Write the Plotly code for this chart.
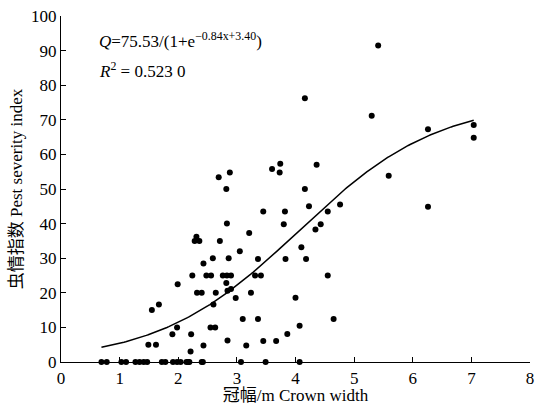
import numpy as np
import plotly.graph_objects as go

# Crown width (m) and pest severity index of the sampled trees
crown_width = [
    0.69, 0.78, 1.03, 1.11, 1.27, 1.34, 1.41, 1.47, 1.72, 1.78,
    1.91, 1.98, 2.04, 2.14, 2.17, 2.19, 2.40, 2.42, 3.07, 3.49, 4.07,
    1.49, 1.62, 1.55, 1.67, 1.90, 1.98, 2.22, 2.21, 1.99, 2.24, 2.32,
    2.69, 2.88, 2.82, 2.83, 2.71, 2.31, 2.28, 2.36, 3.05, 2.86, 2.59, 2.43,
    2.48, 2.56, 2.76, 2.83, 2.90, 2.82, 2.84, 2.90, 2.40, 2.64, 2.60, 2.98,
    2.55, 2.63, 2.84, 2.43,
    4.16, 5.30, 5.59, 3.60, 3.74, 3.73, 4.36, 4.16, 4.23, 3.45, 3.82, 3.80,
    4.55, 4.76, 4.34, 4.43, 3.21, 4.10, 4.18, 3.83, 3.36, 3.31, 3.41, 4.55,
    3.24, 4.00, 3.10, 3.36, 4.65, 4.07, 3.86, 3.16, 3.45, 3.67,
    5.41, 6.26, 7.04, 7.04, 6.26,
]
pest_index = [
    0, 0, 0, 0, 0, 0, 0, 0, 0, 0,
    0, 0, 0, 0, 0, 0, 0, 0, 0, 0, 0,
    5.0, 5.0, 15.0, 16.6, 8.0, 10.0, 8.0, 3.0, 22.5, 25.0, 20.0,
    53.4, 54.8, 50.0, 40.0, 35.0, 36.2, 35.0, 35.0, 32.0, 30.0, 30.0, 28.5,
    25.0, 25.0, 25.0, 25.0, 25.0, 22.8, 20.6, 21.1, 20.0, 20.0, 16.6, 18.5,
    10.0, 10.0, 6.2, 4.8,
    76.2, 71.2, 53.8, 55.8, 57.3, 54.8, 57.0, 50.0, 45.0, 43.5, 43.5, 39.8,
    43.5, 45.5, 38.3, 39.8, 37.3, 33.2, 29.8, 29.8, 29.8, 25.0, 25.0, 25.0,
    20.0, 18.6, 12.4, 12.4, 12.4, 10.5, 8.1, 4.8, 6.1, 6.1,
    91.5, 67.3, 68.5, 64.8, 44.9,
]

# Logistic fit Q = K / (1 + exp(a*x + b))
K, a, b = 75.53, -0.84, 3.40
x_fit = np.linspace(0.69, 7.04, 200)
y_fit = K / (1 + np.exp(a * x_fit + b))

x_ticks = list(range(0, 9))
y_ticks = list(range(0, 101, 10))

serif = "'Liberation Serif', 'Noto Sans CJK SC', serif"

fig = go.Figure()
fig.add_trace(go.Scatter(
    x=x_fit, y=y_fit, mode="lines",
    line=dict(color="black", width=1.5),
    hoverinfo="skip", cliponaxis=False,
))
fig.add_trace(go.Scatter(
    x=crown_width, y=pest_index, mode="markers",
    marker=dict(color="black", size=6),
    cliponaxis=False,
))

fig.add_annotation(
    x=0, y=1, xref="paper", yref="paper",
    xshift=36, yshift=-24, xanchor="left", yanchor="middle",
    text="<i>Q</i>=75.53/(1+e<sup>−0.84x+3.40</sup>)",
    showarrow=False, font=dict(family=serif, size=17, color="black"),
)
fig.add_annotation(
    x=0, y=1, xref="paper", yref="paper",
    xshift=36, yshift=-54, xanchor="left", yanchor="middle",
    text="<i>R</i><sup>2</sup> = 0.523 0",
    showarrow=False, font=dict(family=serif, size=17, color="black"),
)

axis_common = dict(
    showgrid=False, zeroline=False, showline=True,
    linecolor="black", linewidth=1.3,
    ticks="inside", ticklen=5, tickwidth=1.3, tickcolor="black",
    tickfont=dict(family=serif, size=17, color="black"),
    ticklabeloverflow="allow",
)

fig.update_layout(
    width=536, height=405,
    margin=dict(l=61, r=2, t=16, b=42),
    paper_bgcolor="white", plot_bgcolor="white",
    showlegend=False,
    font=dict(family=serif, color="black"),
    xaxis=dict(
        range=[0, 8], tickvals=x_ticks, ticktext=[str(v) for v in x_ticks],
        title=dict(text="冠幅/m Crown width", standoff=4,
                   font=dict(family=serif, size=17, color="black")),
        **axis_common,
    ),
    yaxis=dict(
        range=[0, 100], tickvals=y_ticks, ticktext=[str(v) for v in y_ticks],
        title=dict(text="虫情指数 Pest severity index", standoff=4,
                   font=dict(family=serif, size=17, color="black")),
        **axis_common,
    ),
)

fig.write_html("out.html")
